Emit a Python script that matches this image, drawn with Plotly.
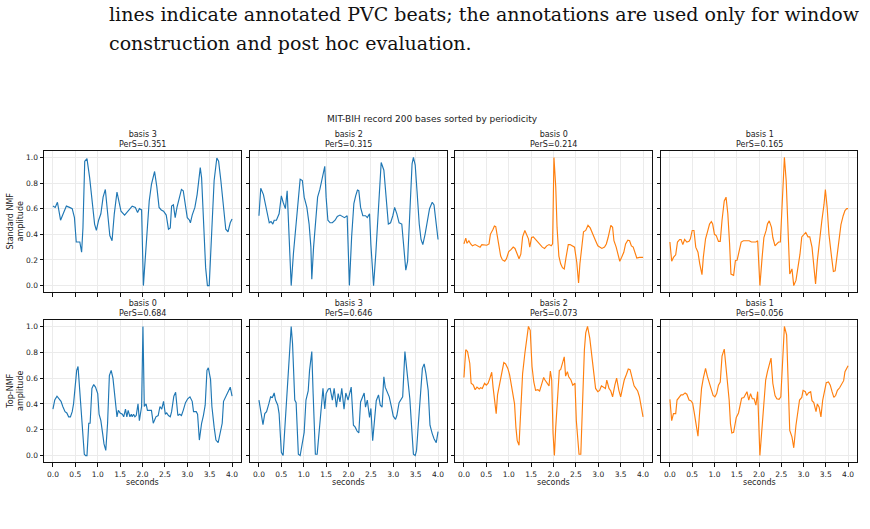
import plotly.graph_objects as go

# ---------------- data ----------------
suptitle = "MIT-BIH record 200 bases sorted by periodicity"
caption_lines = [
    "lines indicate annotated PVC beats; the annotations are used only for window",
    "construction and post hoc evaluation.",
]
row_labels = ["Standard NMF<br>amplitude", "Top-NMF<br>amplitude"]
x_label = "seconds"
x_ticks = [0.0, 0.5, 1.0, 1.5, 2.0, 2.5, 3.0, 3.5, 4.0]
y_ticks = [0.0, 0.2, 0.4, 0.6, 0.8, 1.0]

titles = ["basis 3", "basis 2", "basis 0", "basis 1",
          "basis 0", "basis 3", "basis 2", "basis 1"]
pers = [0.351, 0.315, 0.214, 0.165, 0.684, 0.646, 0.073, 0.056]
series_color = ["blue", "blue", "orange", "orange",
                "blue", "blue", "orange", "orange"]

# row 1, col 1 : Standard NMF basis 3
t_s3 = [0.00, 0.05, 0.10, 0.17, 0.24, 0.30, 0.37, 0.43, 0.48, 0.52, 0.57, 0.60, 0.64, 0.67, 0.71, 0.76,
        0.82, 0.88, 0.93, 0.97, 1.02, 1.07, 1.12, 1.17, 1.23, 1.27, 1.32, 1.37, 1.43, 1.47, 1.52, 1.60,
        1.68, 1.77, 1.84, 1.89, 1.93, 1.98, 2.02, 2.08, 2.15, 2.20, 2.27, 2.32, 2.37, 2.42, 2.47, 2.53,
        2.58, 2.62, 2.65, 2.69, 2.73, 2.77, 2.83, 2.87, 2.91, 2.96, 3.00, 3.05, 3.07, 3.11, 3.17, 3.22,
        3.29, 3.32, 3.36, 3.41, 3.45, 3.49, 3.55, 3.60, 3.66, 3.70, 3.75, 3.81, 3.86, 3.91, 3.96, 4.00]
v_s3 = [0.62, 0.61, 0.65, 0.51, 0.57, 0.62, 0.61, 0.60, 0.53, 0.34, 0.34, 0.34, 0.26, 0.45, 0.97, 0.99,
        0.84, 0.64, 0.48, 0.43, 0.51, 0.56, 0.69, 0.75, 0.53, 0.39, 0.35, 0.56, 0.73, 0.66, 0.58, 0.55,
        0.58, 0.62, 0.61, 0.57, 0.60, 0.59, 0.00, 0.32, 0.66, 0.79, 0.89, 0.77, 0.61, 0.59, 0.58, 0.55,
        0.44, 0.45, 0.62, 0.63, 0.53, 0.61, 0.71, 0.75, 0.74, 0.60, 0.53, 0.51, 0.49, 0.55, 0.61, 0.71,
        0.92, 0.84, 0.56, 0.14, 0.00, 0.00, 0.45, 0.82, 0.995, 0.97, 0.82, 0.61, 0.44, 0.42, 0.49, 0.52]

# row 1, col 2 : Standard NMF basis 2
t_s2 = [0.00, 0.04, 0.10, 0.14, 0.19, 0.23, 0.27, 0.31, 0.34, 0.39, 0.45, 0.50, 0.54, 0.59, 0.63, 0.67,
        0.72, 0.77, 0.82, 0.87, 0.92, 0.97, 1.01, 1.07, 1.12, 1.16, 1.18, 1.22, 1.27, 1.31, 1.36, 1.42,
        1.47, 1.50, 1.54, 1.59, 1.64, 1.70, 1.75, 1.81, 1.86, 1.91, 1.97, 2.00, 2.02, 2.07, 2.12, 2.16,
        2.20, 2.23, 2.27, 2.32, 2.38, 2.42, 2.47, 2.50, 2.56, 2.61, 2.65, 2.70, 2.73, 2.79, 2.84, 2.89,
        2.94, 2.99, 3.03, 3.08, 3.13, 3.19, 3.23, 3.28, 3.32, 3.37, 3.42, 3.45, 3.49, 3.53, 3.58, 3.62,
        3.66, 3.71, 3.76, 3.81, 3.87, 3.91, 3.96, 4.00]
v_s2 = [0.545, 0.76, 0.71, 0.64, 0.57, 0.49, 0.50, 0.48, 0.51, 0.51, 0.56, 0.70, 0.65, 0.60, 0.74, 0.35,
        0.00, 0.25, 0.45, 0.69, 0.83, 0.82, 0.69, 0.61, 0.48, 0.30, 0.05, 0.30, 0.53, 0.69, 0.75, 0.84,
        0.93, 0.69, 0.51, 0.49, 0.49, 0.51, 0.54, 0.55, 0.54, 0.53, 0.545, 0.30, 0.00, 0.38, 0.64, 0.70,
        0.745, 0.74, 0.61, 0.545, 0.545, 0.53, 0.56, 0.32, 0.00, 0.25, 0.52, 0.82, 0.96, 0.90, 0.66, 0.48,
        0.49, 0.545, 0.61, 0.56, 0.49, 0.48, 0.32, 0.12, 0.19, 0.53, 0.95, 1.00, 0.94, 0.74, 0.48, 0.36,
        0.32, 0.40, 0.49, 0.60, 0.65, 0.63, 0.48, 0.36]

# row 1, col 3 : Standard NMF basis 0
t_s0 = [0.00, 0.04, 0.07, 0.11, 0.15, 0.19, 0.25, 0.30, 0.36, 0.40, 0.45, 0.51, 0.56, 0.59, 0.65, 0.68,
        0.71, 0.77, 0.82, 0.86, 0.91, 0.95, 1.00, 1.05, 1.10, 1.14, 1.19, 1.23, 1.27, 1.31, 1.36, 1.40,
        1.44, 1.47, 1.51, 1.55, 1.60, 1.63, 1.69, 1.75, 1.80, 1.85, 1.90, 1.95, 1.98, 2.01, 2.05, 2.08,
        2.12, 2.16, 2.20, 2.24, 2.28, 2.33, 2.37, 2.42, 2.47, 2.52, 2.56, 2.59, 2.64, 2.67, 2.72, 2.77,
        2.82, 2.86, 2.90, 2.94, 2.99, 3.04, 3.08, 3.14, 3.18, 3.22, 3.25, 3.28, 3.32, 3.35, 3.40, 3.43,
        3.48, 3.52, 3.57, 3.61, 3.66, 3.70, 3.74, 3.78, 3.82, 3.86, 3.92, 3.96, 4.00]
v_s0 = [0.325, 0.37, 0.33, 0.35, 0.325, 0.31, 0.32, 0.31, 0.30, 0.32, 0.315, 0.315, 0.325, 0.40, 0.44, 0.465,
        0.46, 0.325, 0.23, 0.20, 0.19, 0.21, 0.265, 0.28, 0.30, 0.29, 0.24, 0.21, 0.245, 0.38, 0.43, 0.40,
        0.365, 0.30, 0.375, 0.38, 0.36, 0.34, 0.32, 0.30, 0.29, 0.31, 0.32, 0.31, 0.325, 1.00, 0.77, 0.45,
        0.23, 0.17, 0.14, 0.13, 0.22, 0.32, 0.32, 0.31, 0.30, 0.18, 0.02, 0.17, 0.325, 0.42, 0.43, 0.47,
        0.45, 0.415, 0.37, 0.35, 0.31, 0.30, 0.29, 0.30, 0.325, 0.375, 0.43, 0.47, 0.455, 0.35, 0.30, 0.25,
        0.19, 0.22, 0.26, 0.325, 0.355, 0.35, 0.31, 0.30, 0.26, 0.215, 0.22, 0.22, 0.22]

# row 1, col 4 : Standard NMF basis 1
t_s1 = [0.00, 0.04, 0.08, 0.13, 0.17, 0.22, 0.25, 0.29, 0.33, 0.38, 0.43, 0.46, 0.50, 0.54, 0.58, 0.63,
        0.67, 0.72, 0.75, 0.80, 0.84, 0.89, 0.93, 0.96, 1.00, 1.04, 1.09, 1.13, 1.17, 1.22, 1.26, 1.30,
        1.34, 1.37, 1.43, 1.47, 1.51, 1.56, 1.60, 1.65, 1.69, 1.74, 1.78, 1.83, 1.87, 1.93, 1.97, 2.02,
        2.07, 2.11, 2.16, 2.19, 2.23, 2.28, 2.31, 2.36, 2.40, 2.44, 2.48, 2.53, 2.57, 2.61, 2.65, 2.69,
        2.74, 2.78, 2.83, 2.87, 2.92, 2.96, 3.01, 3.05, 3.10, 3.14, 3.19, 3.22, 3.27, 3.31, 3.37, 3.41,
        3.46, 3.49, 3.53, 3.57, 3.63, 3.67, 3.71, 3.75, 3.80, 3.84, 3.89, 3.93, 3.97, 4.00]
v_s1 = [0.34, 0.19, 0.22, 0.24, 0.34, 0.36, 0.36, 0.32, 0.36, 0.34, 0.345, 0.365, 0.43, 0.43, 0.30, 0.26,
        0.17, 0.085, 0.22, 0.365, 0.415, 0.48, 0.50, 0.48, 0.40, 0.39, 0.345, 0.345, 0.51, 0.66, 0.69, 0.56,
        0.325, 0.09, 0.08, 0.195, 0.20, 0.27, 0.34, 0.35, 0.35, 0.355, 0.35, 0.34, 0.34, 0.34, 0.35, 0.00,
        0.22, 0.375, 0.43, 0.48, 0.505, 0.455, 0.375, 0.31, 0.325, 0.34, 0.34, 0.66, 1.00, 0.82, 0.455, 0.09,
        0.13, 0.00, 0.04, 0.12, 0.245, 0.38, 0.40, 0.415, 0.38, 0.38, 0.30, 0.195, 0.013, 0.195, 0.40, 0.505,
        0.635, 0.75, 0.61, 0.40, 0.22, 0.11, 0.115, 0.22, 0.35, 0.475, 0.545, 0.585, 0.60, 0.60]

# row 2, col 1 : Top-NMF basis 0
t_t0 = [0.00, 0.04, 0.09, 0.13, 0.18, 0.22, 0.27, 0.31, 0.35, 0.39, 0.43, 0.46, 0.50, 0.53, 0.56, 0.59,
        0.63, 0.67, 0.70, 0.73, 0.76, 0.80, 0.83, 0.87, 0.91, 0.95, 1.00, 1.03, 1.07, 1.11, 1.14, 1.18,
        1.22, 1.26, 1.30, 1.34, 1.38, 1.41, 1.43, 1.46, 1.50, 1.55, 1.58, 1.62, 1.65, 1.68, 1.72, 1.75,
        1.77, 1.80, 1.83, 1.86, 1.90, 1.93, 1.98, 2.01, 2.04, 2.08, 2.11, 2.16, 2.20, 2.24, 2.27, 2.30,
        2.35, 2.39, 2.43, 2.47, 2.51, 2.54, 2.58, 2.62, 2.65, 2.70, 2.74, 2.79, 2.83, 2.87, 2.91, 2.96,
        3.01, 3.06, 3.11, 3.14, 3.20, 3.23, 3.27, 3.32, 3.36, 3.40, 3.44, 3.47, 3.52, 3.55, 3.60, 3.64,
        3.69, 3.73, 3.78, 3.81, 3.87, 3.91, 3.96, 4.00]
v_t0 = [0.36, 0.43, 0.46, 0.44, 0.42, 0.38, 0.34, 0.33, 0.30, 0.30, 0.34, 0.40, 0.52, 0.66, 0.69, 0.56,
        0.36, 0.17, 0.01, 0.00, 0.00, 0.25, 0.25, 0.52, 0.55, 0.53, 0.48, 0.32, 0.27, 0.17, 0.09, 0.04,
        0.25, 0.62, 0.66, 0.60, 0.455, 0.35, 0.30, 0.35, 0.33, 0.32, 0.30, 0.36, 0.30, 0.35, 0.30, 0.32,
        0.30, 0.32, 0.30, 0.31, 0.40, 0.27, 0.38, 1.00, 0.38, 0.40, 0.35, 0.35, 0.35, 0.25, 0.27, 0.30,
        0.31, 0.38, 0.36, 0.42, 0.32, 0.33, 0.31, 0.30, 0.34, 0.46, 0.49, 0.31, 0.32, 0.31, 0.35, 0.41,
        0.44, 0.455, 0.42, 0.34, 0.34, 0.32, 0.12, 0.25, 0.31, 0.39, 0.66, 0.68, 0.59, 0.38, 0.22, 0.12,
        0.10, 0.17, 0.25, 0.42, 0.47, 0.50, 0.53, 0.46]

# row 2, col 2 : Top-NMF basis 3
t_t3 = [0.00, 0.04, 0.09, 0.13, 0.17, 0.22, 0.26, 0.30, 0.34, 0.37, 0.42, 0.45, 0.50, 0.54, 0.58, 0.63,
        0.67, 0.72, 0.75, 0.80, 0.83, 0.88, 0.92, 0.96, 1.01, 1.05, 1.10, 1.13, 1.18, 1.21, 1.26, 1.30,
        1.35, 1.39, 1.43, 1.47, 1.50, 1.55, 1.59, 1.64, 1.68, 1.73, 1.77, 1.81, 1.85, 1.90, 1.94, 1.99,
        2.03, 2.06, 2.11, 2.15, 2.19, 2.23, 2.27, 2.32, 2.35, 2.38, 2.42, 2.47, 2.50, 2.54, 2.58, 2.62,
        2.67, 2.71, 2.75, 2.79, 2.82, 2.87, 2.91, 2.96, 3.00, 3.05, 3.08, 3.13, 3.17, 3.21, 3.26, 3.29,
        3.34, 3.37, 3.41, 3.45, 3.49, 3.52, 3.56, 3.61, 3.65, 3.69, 3.73, 3.78, 3.82, 3.87, 3.91, 3.96, 4.00]
v_t3 = [0.43, 0.34, 0.24, 0.325, 0.34, 0.40, 0.455, 0.45, 0.485, 0.43, 0.39, 0.325, 0.025, 0.00, 0.22, 0.53,
        0.79, 1.00, 0.87, 0.43, 0.41, 0.01, 0.00, 0.09, 0.18, 0.43, 0.50, 0.66, 0.805, 0.48, 0.01, 0.01,
        0.195, 0.35, 0.52, 0.36, 0.48, 0.515, 0.52, 0.43, 0.52, 0.375, 0.48, 0.415, 0.52, 0.36, 0.485, 0.43,
        0.49, 0.53, 0.235, 0.22, 0.19, 0.175, 0.415, 0.455, 0.485, 0.375, 0.43, 0.295, 0.365, 0.115, 0.30, 0.425,
        0.47, 0.39, 0.375, 0.61, 0.53, 0.49, 0.455, 0.375, 0.305, 0.28, 0.31, 0.41, 0.43, 0.455, 0.805, 0.69,
        0.505, 0.44, 0.22, 0.01, 0.00, 0.04, 0.245, 0.505, 0.675, 0.71, 0.635, 0.505, 0.235, 0.17, 0.13, 0.10, 0.185]

# row 2, col 3 : Top-NMF basis 2
t_t2 = [0.00, 0.04, 0.08, 0.13, 0.16, 0.21, 0.25, 0.29, 0.34, 0.37, 0.41, 0.46, 0.50, 0.54, 0.58, 0.62,
        0.65, 0.68, 0.72, 0.75, 0.80, 0.84, 0.89, 0.93, 0.98, 1.02, 1.07, 1.10, 1.13, 1.16, 1.19, 1.23,
        1.27, 1.31, 1.36, 1.40, 1.44, 1.48, 1.52, 1.56, 1.60, 1.65, 1.69, 1.73, 1.78, 1.81, 1.86, 1.90,
        1.93, 1.96, 1.99, 2.02, 2.05, 2.09, 2.13, 2.16, 2.20, 2.24, 2.27, 2.31, 2.34, 2.39, 2.43, 2.48,
        2.51, 2.57, 2.61, 2.65, 2.69, 2.72, 2.76, 2.81, 2.85, 2.90, 2.94, 2.99, 3.03, 3.07, 3.12, 3.16,
        3.19, 3.24, 3.28, 3.32, 3.37, 3.41, 3.46, 3.50, 3.54, 3.58, 3.63, 3.67, 3.71, 3.75, 3.80, 3.84,
        3.88, 3.92, 3.96, 4.00]
v_t2 = [0.605, 0.82, 0.805, 0.715, 0.56, 0.545, 0.51, 0.53, 0.515, 0.525, 0.52, 0.56, 0.545, 0.56, 0.60, 0.645,
        0.53, 0.43, 0.325, 0.47, 0.56, 0.66, 0.72, 0.71, 0.675, 0.625, 0.53, 0.455, 0.40, 0.22, 0.115, 0.08,
        0.375, 0.635, 0.79, 0.92, 1.00, 0.97, 0.69, 0.57, 0.505, 0.51, 0.50, 0.545, 0.605, 0.585, 0.56, 0.54,
        0.655, 0.585, 0.17, 0.00, 0.22, 0.495, 0.66, 0.665, 0.725, 0.765, 0.615, 0.65, 0.61, 0.585, 0.545, 0.56,
        0.27, 0.01, 0.01, 0.43, 0.82, 0.95, 1.00, 0.91, 0.78, 0.635, 0.52, 0.495, 0.505, 0.54, 0.525, 0.52,
        0.585, 0.52, 0.50, 0.455, 0.545, 0.60, 0.505, 0.455, 0.52, 0.585, 0.63, 0.67, 0.665, 0.60, 0.54, 0.52,
        0.50, 0.455, 0.39, 0.30]

# row 2, col 4 : Top-NMF basis 1
t_t1 = [0.00, 0.04, 0.08, 0.13, 0.16, 0.20, 0.25, 0.29, 0.34, 0.38, 0.43, 0.47, 0.51, 0.55, 0.60, 0.63,
        0.66, 0.71, 0.75, 0.80, 0.84, 0.89, 0.93, 0.97, 1.01, 1.05, 1.09, 1.13, 1.17, 1.22, 1.25, 1.29,
        1.33, 1.36, 1.39, 1.43, 1.46, 1.49, 1.54, 1.57, 1.61, 1.66, 1.69, 1.73, 1.77, 1.81, 1.85, 1.89,
        1.93, 1.97, 2.02, 2.07, 2.11, 2.15, 2.19, 2.23, 2.27, 2.31, 2.36, 2.40, 2.45, 2.49, 2.53, 2.57,
        2.62, 2.66, 2.69, 2.74, 2.78, 2.83, 2.87, 2.91, 2.96, 2.99, 3.04, 3.07, 3.11, 3.16, 3.19, 3.23,
        3.28, 3.31, 3.35, 3.39, 3.43, 3.47, 3.51, 3.56, 3.60, 3.64, 3.68, 3.72, 3.76, 3.81, 3.85, 3.90,
        3.93, 3.96, 4.00]
v_t1 = [0.435, 0.27, 0.325, 0.325, 0.43, 0.45, 0.47, 0.47, 0.485, 0.475, 0.43, 0.425, 0.405, 0.325, 0.195, 0.15,
        0.30, 0.52, 0.60, 0.675, 0.615, 0.565, 0.51, 0.465, 0.455, 0.48, 0.545, 0.57, 0.77, 0.825, 0.715, 0.56,
        0.43, 0.245, 0.175, 0.18, 0.235, 0.295, 0.33, 0.37, 0.445, 0.45, 0.465, 0.495, 0.43, 0.48, 0.44, 0.44,
        0.39, 0.495, 0.00, 0.22, 0.43, 0.585, 0.65, 0.70, 0.755, 0.56, 0.465, 0.44, 0.435, 0.455, 0.715, 1.00,
        0.935, 0.56, 0.195, 0.145, 0.06, 0.235, 0.35, 0.43, 0.45, 0.505, 0.495, 0.465, 0.485, 0.495, 0.425, 0.41,
        0.34, 0.40, 0.375, 0.30, 0.43, 0.505, 0.565, 0.57, 0.545, 0.495, 0.45, 0.465, 0.505, 0.525, 0.545, 0.58,
        0.65, 0.675, 0.695]

times = [t_s3, t_s2, t_s0, t_s1, t_t0, t_t3, t_t2, t_t1]
values = [v_s3, v_s2, v_s0, v_s1, v_t0, v_t3, v_t2, v_t1]

# ---------------- styling / layout ----------------
W, H = 870, 529
COLORS = {"blue": "#1f77b4", "orange": "#ff7f0e"}
FONT = "DejaVu Sans"
col_px = [(44, 241), (250, 447), (455, 652), (661, 857)]
row_px = [(151, 292), (320, 462)]

def px_x(p):
    return p / W

def px_y(p):
    return 1 - p / H

fig = go.Figure()
layout = dict(
    width=W, height=H, margin=dict(l=0, r=0, t=0, b=0),
    paper_bgcolor="white", plot_bgcolor="white", showlegend=False,
    font=dict(family=FONT, size=8, color="#222"),
)
annotations = []

for i in range(8):
    r, c = divmod(i, 4)
    k = "" if i == 0 else str(i + 1)
    x0, x1 = col_px[c]
    yt, yb = row_px[r]
    fig.add_trace(go.Scatter(
        x=times[i], y=values[i], mode="lines",
        line=dict(color=COLORS[series_color[i]], width=1.15),
        xaxis="x" + k, yaxis="y" + k, hoverinfo="skip",
    ))
    axis_common = dict(
        showline=True, mirror=True, linecolor="#111", linewidth=1,
        ticks="outside", ticklen=3.5, tickwidth=0.8, tickcolor="#111",
        showgrid=True, gridcolor="#ebebeb", gridwidth=0.7, zeroline=False,
        tickfont=dict(family=FONT, size=7.5, color="#222"),
    )
    layout["xaxis" + k] = dict(
        axis_common, domain=[px_x(x0), px_x(x1)], anchor="y" + k,
        range=[-0.2, 4.2], tickvals=x_ticks, ticklabelstandoff=1,
        ticktext=["%.1f" % v for v in x_ticks], showticklabels=(r == 1),
    )
    layout["yaxis" + k] = dict(
        axis_common, domain=[px_y(yb), px_y(yt)], anchor="x" + k,
        range=[-0.05, 1.05], tickvals=y_ticks,
        ticktext=["%.1f" % v for v in y_ticks], showticklabels=(c == 0),
    )
    annotations.append(dict(
        text="%s<br>PerS=%.3f" % (titles[i], pers[i]), showarrow=False,
        xref="paper", yref="paper", x=px_x((x0 + x1) / 2), y=px_y(yt),
        xanchor="center", yanchor="bottom", align="center",
        font=dict(family=FONT, size=8, color="#222"),
    ))
    if r == 1:
        annotations.append(dict(
            text=x_label, showarrow=False, xref="paper", yref="paper",
            x=px_x((x0 + x1) / 2), y=px_y(482), xanchor="center", yanchor="middle",
            font=dict(family=FONT, size=8, color="#222"),
        ))

for r in range(2):
    yt, yb = row_px[r]
    annotations.append(dict(
        text=row_labels[r], showarrow=False, textangle=-90,
        xref="paper", yref="paper", x=px_x(15), y=px_y((yt + yb) / 2),
        xanchor="center", yanchor="middle", align="center",
        font=dict(family=FONT, size=8, color="#222"),
    ))

annotations.append(dict(
    text=suptitle, showarrow=False, xref="paper", yref="paper",
    x=px_x(432), y=px_y(119), xanchor="center", yanchor="middle",
    font=dict(family=FONT, size=9, color="#222"),
))

for j, line in enumerate(caption_lines):
    annotations.append(dict(
        text=line, showarrow=False, xref="paper", yref="paper",
        x=px_x(107), y=px_y(14 + 29 * j), xanchor="left", yanchor="middle",
        font=dict(family="DejaVu Serif", size=19, color="#111"),
    ))

layout["annotations"] = annotations
fig.update_layout(**layout)
fig.write_html("out.html")
